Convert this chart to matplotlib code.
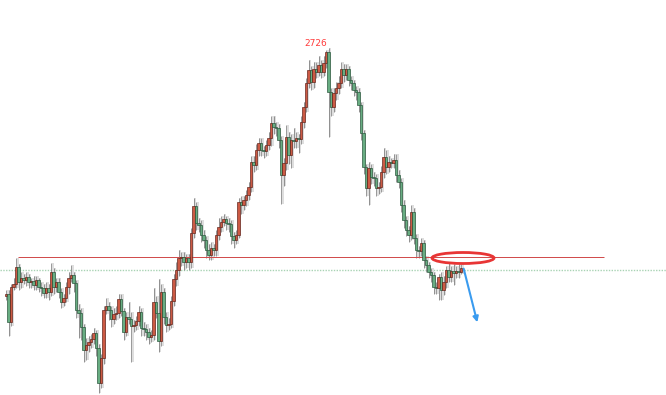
import numpy as np
import matplotlib.pyplot as plt
from matplotlib.patches import Ellipse

# candle data (price), each candle opens at the previous close
first_open = 2602
closes = [2603, 2589, 2606.5, 2608, 2616.5, 2609, 2611, 2610, 2611.5, 2609,
          2609.5, 2607.5, 2610, 2606.5, 2606, 2603.5, 2606, 2604, 2614, 2606.5,
          2609, 2604, 2599, 2601, 2606.5, 2611, 2612.5, 2608.5, 2595, 2593.5,
          2586.5, 2575, 2577.5, 2579, 2580.5, 2583.5, 2576, 2558.5, 2571, 2595,
          2597, 2595, 2590.5, 2593, 2593.5, 2600.5, 2594.5, 2584, 2591.5, 2590.5,
          2587, 2587.5, 2589.5, 2594, 2586, 2585.5, 2584, 2581.5, 2582.5, 2599,
          2593.5, 2579.5, 2604, 2591.5, 2587.5, 2588, 2599.5, 2610.5, 2615, 2621,
          2621.5, 2619, 2621, 2619, 2633.5, 2647, 2638.5, 2637.5, 2632.5, 2630,
          2625, 2622.5, 2626, 2625, 2632.5, 2636.5, 2639, 2640.5, 2638.5, 2638,
          2632, 2630, 2632.5, 2649, 2647.5, 2650, 2652.5, 2656.5, 2669, 2667.5,
          2675, 2678.5, 2675, 2674.5, 2677.5, 2681, 2688.5, 2686.5, 2686, 2680,
          2662.5, 2668.5, 2681.5, 2672.5, 2680, 2679.5, 2681, 2680.5, 2689, 2696.5,
          2708.5, 2715, 2709, 2715.5, 2714, 2717.5, 2714, 2718.5, 2724, 2704,
          2696.5, 2703.5, 2706, 2708.5, 2715.5, 2712.5, 2715.5, 2710, 2708.5, 2705,
          2704, 2697.5, 2683.5, 2666.5, 2656, 2666, 2661.5, 2661, 2656, 2656.5,
          2664, 2671.5, 2666.5, 2669, 2668.5, 2670, 2662.5, 2659, 2647.5, 2640,
          2635, 2632.5, 2644, 2631, 2625, 2624.5, 2628.5, 2620, 2617.5, 2614,
          2612.5, 2606.5, 2606, 2611.5, 2605, 2609, 2615, 2611.5, 2614.5, 2613.5,
          2614.5, 2614, 2616]
highs = [2605, 2605, 2608, 2611, 2621, 2618, 2614, 2613, 2614, 2613,
         2611, 2612, 2612, 2611, 2609, 2608, 2609, 2608, 2618.5, 2616,
         2611, 2611, 2606, 2603, 2609, 2614, 2617.5, 2614, 2610, 2598,
         2596, 2588, 2581, 2582, 2583, 2586, 2585, 2578, 2573, 2597,
         2601, 2599, 2597, 2596, 2597, 2603, 2603, 2596, 2594, 2599,
         2594, 2590, 2592, 2597, 2596, 2589, 2588, 2586, 2585, 2606,
         2602, 2610.5, 2608, 2606, 2594, 2591, 2602, 2613, 2619, 2625,
         2624, 2624, 2623, 2623, 2636, 2651, 2649, 2641, 2640, 2635,
         2632, 2628, 2629, 2628, 2635, 2641, 2642, 2643, 2642, 2641,
         2640, 2634, 2635, 2651, 2652, 2652, 2655, 2659, 2672, 2672,
         2678, 2681, 2681, 2677, 2680, 2684, 2692, 2692, 2689, 2688,
         2682, 2671, 2687.5, 2684, 2683, 2686, 2684, 2683, 2692, 2699,
         2711, 2720, 2717, 2719, 2719, 2722, 2720, 2722, 2725, 2726,
         2706, 2706, 2709, 2712, 2719, 2718, 2718, 2717, 2712, 2710,
         2707, 2706, 2699, 2685, 2668, 2669, 2668, 2664, 2663, 2659,
         2667, 2676, 2675, 2672, 2671, 2673, 2673, 2665, 2661, 2650,
         2642, 2637, 2647.5, 2646, 2633, 2627, 2631, 2630, 2622, 2619,
         2616, 2614, 2609, 2613, 2614, 2612, 2617, 2619, 2617, 2618,
         2617, 2618, 2618]
lows = [2600, 2582, 2587, 2605, 2606, 2605, 2606, 2608, 2607, 2606,
        2606, 2605, 2605, 2604, 2602, 2601, 2601, 2600, 2602, 2603,
        2604, 2601, 2596, 2597, 2599, 2603, 2609, 2604, 2591, 2581,
        2580, 2569, 2570, 2574, 2576, 2578, 2572, 2553.5, 2556, 2568,
        2593, 2590, 2586.5, 2588, 2590, 2591, 2592, 2580, 2582, 2588,
        2569, 2584, 2585, 2587, 2582, 2582, 2580, 2578, 2579, 2580,
        2591, 2574, 2577, 2588, 2584, 2585, 2586, 2597, 2607, 2612,
        2617, 2615, 2616, 2615, 2616, 2631, 2635, 2634, 2629, 2626,
        2621, 2620, 2620, 2622, 2622, 2630, 2634, 2637, 2635, 2634,
        2628, 2626, 2628, 2631, 2643, 2645, 2647, 2650, 2654, 2664,
        2665, 2672, 2672, 2671, 2672, 2675, 2677, 2683, 2682, 2676,
        2648, 2657, 2665, 2668, 2666, 2676, 2676, 2673.5, 2678, 2686,
        2694, 2706, 2705, 2706, 2711, 2712, 2711, 2712, 2716, 2681.5,
        2692, 2694, 2700, 2703, 2706, 2709, 2710, 2707, 2705, 2702,
        2700, 2694, 2680, 2663, 2652, 2647.5, 2658, 2657, 2652, 2653,
        2654, 2661, 2663, 2664, 2666, 2666, 2659, 2656, 2644, 2636,
        2632, 2629, 2630, 2628, 2621, 2621, 2622, 2616, 2614, 2611,
        2609, 2603, 2603, 2600, 2600, 2602.5, 2606, 2609, 2609, 2607.5,
        2611, 2611, 2613]

peak_label = "2726"
level = 2621.5
dotted_level = 2615

closes = np.array(closes)
opens = np.concatenate([[first_open], closes[:-1]])
x = np.arange(len(closes))
up = closes >= opens

fig = plt.figure(figsize=(6.66, 3.95), dpi=100)
ax = fig.add_axes([0, 0, 1, 1])
ax.set_xlim(-2.4, 264)
ax.set_ylim(2552.5, 2750)
ax.axis('off')

# soft shadow + wicks
ax.vlines(x + 0.7, lows, highs, color='#dedede', lw=1.4, zorder=1)
ax.vlines(x, lows, highs, color='#707070', lw=0.5, zorder=2)

body_col = np.where(up, '#cc5a44', '#68ad82')
edge_col = np.where(up, '#5a1a12', '#1f4d32')
heights = closes - opens
heights = np.where(np.abs(heights) < 0.3, 0.3, heights)
ax.bar(x, heights, bottom=opens, width=0.85, color=body_col,
       edgecolor=edge_col, linewidth=0.45, zorder=3)

# levels
ax.hlines(level, 4.8, 239.2, color='#d04848', lw=0.7, zorder=2)
ax.axhline(dotted_level, color='#a9d3b4', lw=1.0, ls=(0, (1, 1)), zorder=0)

ax.text(124, 2728.5, peak_label, color='#ff3b3b', fontsize=6.5,
        ha='center', va='center')

ax.add_patch(Ellipse((182.8, 2621), 24.8, 5.5, fill=False,
                     edgecolor='#e83535', lw=2, zorder=4))
ax.annotate('', xy=(188.8, 2587.5), xytext=(182.8, 2617),
            arrowprops=dict(arrowstyle='-|>', color='#3a9bef', lw=1.5,
                            mutation_scale=8), zorder=4)

fig.savefig('out.png', dpi=100)
